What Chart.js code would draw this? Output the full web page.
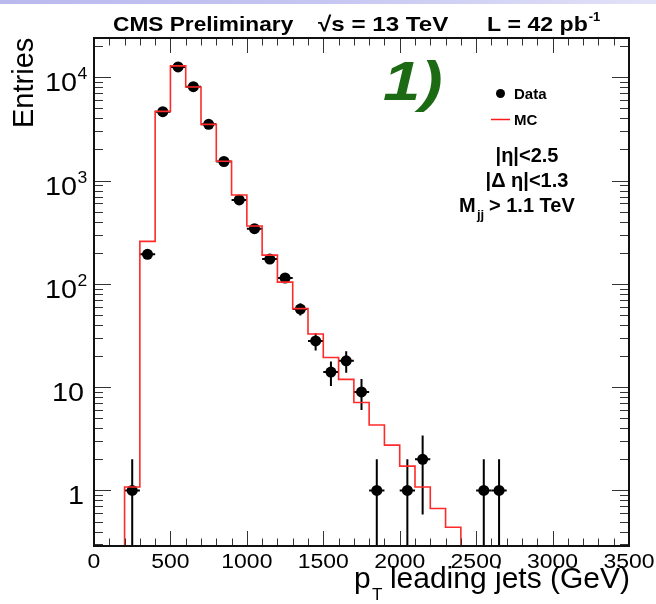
<!DOCTYPE html>
<html>
<head>
<meta charset="utf-8">
<script src="https://cdn.jsdelivr.net/npm/chart.js@4.4.0/dist/chart.umd.min.js"></script>
<style>
  html, body { margin: 0; padding: 0; background: #fff; }
  #ptChart { display: block; }
</style>
</head>
<body>
<canvas id="ptChart" width="656" height="604"></canvas>
<script>
// leading jet pT, 100 GeV bins
const binWidth = 100

// data: bin centres and counts
const dataCenters = [250, 350, 450, 550, 650, 750, 850, 950, 1050, 1150, 1250,
                     1350, 1450, 1550, 1650, 1750, 1850, 2050, 2150, 2550, 2650]
const dataCounts  = [1, 193, 4650, 12600, 8100, 3500, 1530, 650, 342, 174, 114,
                     57, 28, 14, 18, 9, 1, 1, 2, 1, 1]

// MC prediction: low edge of each bin and its content
const mcBinLow = [0, 100, 200, 300, 400, 500, 600, 700, 800, 900, 1000, 1100,
                  1200, 1300, 1400, 1500, 1600, 1700, 1800, 1900, 2000, 2100,
                  2200, 2300, 2400, 2500, 2600, 2700, 2800, 2900, 3000, 3100,
                  3200, 3300, 3400]
const mcValues = [0, 0, 1.08, 258, 4680, 12900, 8050, 3500, 1540, 726, 363, 190,
                  104, 57.6, 32.7, 19.4, 11.9, 7.1, 4.3, 2.75, 1.72, 1.08,
                  0.67, 0.44, 0, 0, 0, 0, 0, 0, 0, 0,
                  0, 0, 0]

const xTicks = [0, 500, 1000, 1500, 2000, 2500, 3000, 3500]
const yTicks = [1, 10, 100, 1000, 10000]
const xMin = 0, xMax = 3500
const yMin = 0.29, yMax = 24000

// histogram outline: one point per low edge plus the closing edge
let mcPoints = []
for (let i = 0; i < mcBinLow.length; i++) {
    mcPoints.push({x: mcBinLow[i], y: mcValues[i] > 0 ? mcValues[i] : yMin})
}
mcPoints.push({x: mcBinLow[mcBinLow.length - 1] + binWidth, y: mcPoints[mcPoints.length - 1].y})

let dataPoints = []
for (let i = 0; i < dataCenters.length; i++) {
    dataPoints.push({x: dataCenters[i], y: dataCounts[i]})
}

// stretched text helper (ROOT labels are a bit wide), returns drawn width
function text(ctx, str, x, y, font, align, sx) {
    sx = sx || 1
    ctx.save()
    ctx.font = font
    ctx.textAlign = align || 'left'
    ctx.textBaseline = 'alphabetic'
    const w = ctx.measureText(str).width * sx
    ctx.translate(x, y)
    ctx.scale(sx, 1)
    ctx.fillText(str, 0, 0)
    ctx.restore()
    return w
}

const banner = {
    id: 'banner',
    beforeDraw(chart) {
        const ctx = chart.ctx
        const g = ctx.createLinearGradient(0, 0, chart.width, 0)
        g.addColorStop(0, '#b9b9ee')
        g.addColorStop(0.5, '#c6c6f2')
        g.addColorStop(1, '#e2e2f8')
        ctx.save()
        ctx.fillStyle = g
        ctx.fillRect(0, 0, chart.width, 4)
        ctx.restore()
    }
}

const errorBars = {
    id: 'errorBars',
    beforeDatasetDraw(chart, args) {
        if (args.index !== 1) return
        const ctx = chart.ctx
        const xs = chart.scales.x, ys = chart.scales.y
        const area = chart.chartArea
        ctx.save()
        ctx.beginPath()
        ctx.rect(area.left, area.top, area.right - area.left, area.bottom - area.top)
        ctx.clip()
        ctx.strokeStyle = '#000'
        ctx.lineWidth = 2
        for (let i = 0; i < dataCenters.length; i++) {
            const n = dataCounts[i]
            const err = Math.sqrt(n)
            const px = xs.getPixelForValue(dataCenters[i])
            const py = ys.getPixelForValue(n)
            const lo = ys.getPixelForValue(Math.max(n - err, yMin))
            const hi = ys.getPixelForValue(n + err)
            ctx.beginPath()
            ctx.moveTo(px, lo)
            ctx.lineTo(px, hi)
            ctx.moveTo(xs.getPixelForValue(dataCenters[i] - binWidth / 2), py)
            ctx.lineTo(xs.getPixelForValue(dataCenters[i] + binWidth / 2), py)
            ctx.stroke()
        }
        ctx.restore()
    }
}

const frame = {
    id: 'frame',
    afterDraw(chart) {
        const ctx = chart.ctx
        const xs = chart.scales.x, ys = chart.scales.y
        const {left, right, top, bottom} = chart.chartArea
        const sans = '"Liberation Sans", Arial, sans-serif'
        ctx.save()

        // ticks on all four sides
        ctx.strokeStyle = '#333'
        ctx.lineWidth = 1
        ctx.beginPath()
        for (let v = xMin; v <= xMax; v += binWidth) {
            const px = Math.round(xs.getPixelForValue(v)) + 0.5
            const len = v % 500 === 0 ? 15 : 7.5
            ctx.moveTo(px, bottom); ctx.lineTo(px, bottom - len)
            ctx.moveTo(px, top); ctx.lineTo(px, top + len)
        }
        for (let e = -1; e <= 4; e++) {
            for (let k = 1; k <= 9; k++) {
                const v = k * Math.pow(10, e)
                if (v < yMin || v > yMax) continue
                const py = Math.round(ys.getPixelForValue(v)) + 0.5
                const len = k === 1 ? 17 : 9
                ctx.moveTo(left, py); ctx.lineTo(left + len, py)
                ctx.moveTo(right, py); ctx.lineTo(right - len, py)
            }
        }
        ctx.stroke()

        // frame
        ctx.strokeStyle = '#111'
        ctx.lineWidth = 2
        ctx.strokeRect(left, top, right - left, bottom - top)

        ctx.fillStyle = '#000'

        // x tick labels
        for (const v of xTicks) {
            text(ctx, String(v), xs.getPixelForValue(v), bottom + 21.5, '20.5px ' + sans, 'center', 1.12)
        }

        // y tick labels, powers of ten
        for (const v of yTicks) {
            const py = ys.getPixelForValue(v)
            const exp = Math.round(Math.log10(v))
            if (exp === 0) {
                text(ctx, '1', 84, py + 14, '25px ' + sans, 'right', 1.15)
            } else if (exp === 1) {
                text(ctx, '10', 84, py + 14, '25px ' + sans, 'right', 1.15)
            } else {
                text(ctx, '10', 77, py + 14, '25px ' + sans, 'right', 1.15)
                text(ctx, String(exp), 77.5, py + 2, '16px ' + sans, 'left', 1.1)
            }
        }

        // axis titles
        ctx.save()
        ctx.translate(33, 128)
        ctx.rotate(-Math.PI / 2)
        text(ctx, 'Entries', 0, 0, '29px ' + sans, 'left')
        ctx.restore()

        ctx.font = '30px ' + sans
        const titleW = ctx.measureText('leading jets (GeV)').width
        text(ctx, 'leading jets (GeV)', 630, 588, '30px ' + sans, 'right')
        const pX = 630 - titleW - 36
        text(ctx, 'p', pX, 588, '30px ' + sans, 'left')
        text(ctx, 'T', pX + 18, 600, '17px ' + sans, 'left')

        // header
        const hb = 'bold 21px ' + sans
        text(ctx, 'CMS Preliminary', 113, 31, hb, 'left', 1.08)
        text(ctx, '\u221As = 13 TeV', 318, 31, hb, 'left', 1.15)
        const lw = text(ctx, 'L = 42 pb', 487, 31, hb, 'left', 1.1)
        text(ctx, '-1', 487 + lw + 1, 21, 'bold 13px ' + sans, 'left')

        // panel number
        ctx.fillStyle = '#1c6b14'
        text(ctx, '1)', 383, 100, 'italic bold 55px ' + sans, 'left', 1.22)

        // legend
        ctx.fillStyle = '#000'
        ctx.beginPath()
        ctx.arc(500.5, 93.5, 4.5, 0, Math.PI * 2)
        ctx.fill()
        text(ctx, 'Data', 514, 99, 'bold 15px ' + sans, 'left')
        ctx.strokeStyle = '#ff1a1a'
        ctx.lineWidth = 1.5
        ctx.beginPath()
        ctx.moveTo(491, 119.5); ctx.lineTo(510, 119.5)
        ctx.stroke()
        text(ctx, 'MC', 514, 125, 'bold 15px ' + sans, 'left')

        // selection cuts
        const cb = 'bold 20px ' + sans
        text(ctx, '|\u03B7|<2.5', 527, 162, cb, 'center')
        text(ctx, '|\u0394 \u03B7|<1.3', 527, 187, cb, 'center')
        text(ctx, 'M', 459, 212, cb, 'left')
        text(ctx, 'jj', 477, 219, 'bold 13px ' + sans, 'left')
        text(ctx, '> 1.1 TeV', 489, 212, cb, 'left')

        ctx.restore()
    }
}

new Chart(document.getElementById('ptChart'), {
    type: 'scatter',
    data: {
        datasets: [{
            type: 'line',
            label: 'MC',
            data: mcPoints,
            stepped: 'before',
            borderColor: '#ff2a2a',
            borderWidth: 1.6,
            pointRadius: 0,
            fill: false,
            tension: 0
        }, {
            label: 'Data',
            data: dataPoints,
            pointRadius: 5.5,
            pointBackgroundColor: '#000',
            pointBorderColor: '#000',
            pointBorderWidth: 0,
            showLine: false
        }]
    },
    options: {
        responsive: false,
        animation: false,
        devicePixelRatio: 1,
        layout: {
            padding: {left: 94, right: 27, top: 38, bottom: 58}
        },
        plugins: {
            legend: {display: false},
            tooltip: {enabled: false}
        },
        scales: {
            x: {
                type: 'linear',
                min: xMin,
                max: xMax,
                display: false
            },
            y: {
                type: 'logarithmic',
                min: yMin,
                max: yMax,
                display: false
            }
        }
    },
    plugins: [banner, errorBars, frame]
})
</script>
</body>
</html>
